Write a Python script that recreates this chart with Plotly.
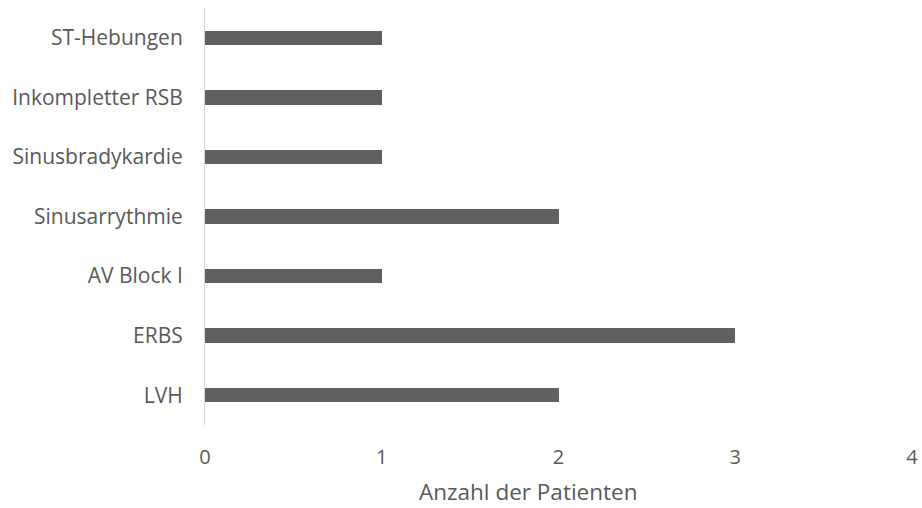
import plotly.graph_objects as go

# Befunde im EKG (von unten nach oben dargestellt)
categories = ["LVH", "ERBS", "AV Block I", "Sinusarrythmie",
              "Sinusbradykardie", "Inkompletter RSB", "ST-Hebungen"]
counts = [2, 3, 1, 2, 1, 1, 1]
x_ticks = [0, 1, 2, 3, 4]
x_title = "Anzahl der Patienten"

fig = go.Figure(
    go.Bar(
        x=counts,
        y=categories,
        orientation="h",
        width=0.24,
        marker=dict(color="#606060", line=dict(width=0)),
        hoverinfo="x+y",
    )
)

fig.update_layout(
    width=922,
    height=508,
    margin=dict(l=205, r=10, t=8, b=83, autoexpand=False),
    plot_bgcolor="white",
    paper_bgcolor="white",
    showlegend=False,
    bargap=0,
    xaxis=dict(
        range=[0, 4],
        tickvals=x_ticks,
        ticktext=[str(v) for v in x_ticks],
        showgrid=False,
        zeroline=False,
        showline=False,
        ticks="",
        automargin=False,
        ticklabelstandoff=18,
        tickfont=dict(family="Open Sans", size=20, color="#595959"),
    ),
    yaxis=dict(
        type="category",
        categoryorder="array",
        categoryarray=categories,
        range=[-0.5, 6.5],
        showgrid=False,
        zeroline=False,
        showline=True,
        linecolor="#d9d9d9",
        linewidth=1,
        ticks="",
        automargin=False,
        ticklabelstandoff=17,
        tickfont=dict(family="Open Sans", size=21, color="#595959"),
    ),
)

# Achsentitel, über die gesamte Diagrammbreite zentriert
fig.add_annotation(
    text=x_title,
    xref="paper", yref="paper",
    x=0.457, y=-0.159,
    xanchor="center", yanchor="middle",
    showarrow=False,
    font=dict(family="Open Sans", size=22.5, color="#595959"),
)

fig.write_html("out.html")
